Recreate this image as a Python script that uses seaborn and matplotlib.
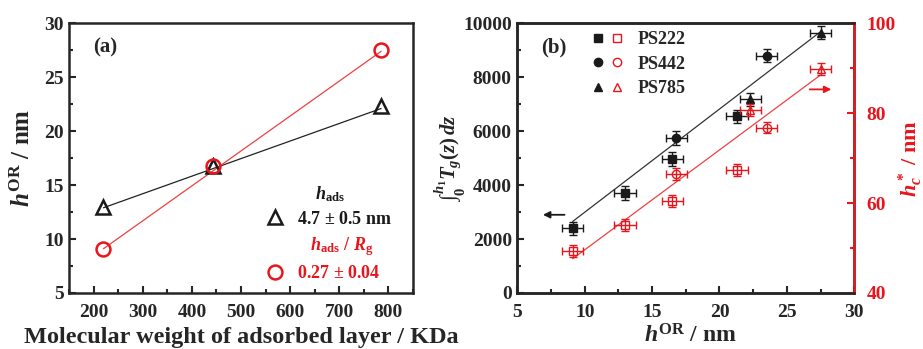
import matplotlib
matplotlib.use("Agg")
import matplotlib.pyplot as plt
from matplotlib.lines import Line2D
from matplotlib.legend_handler import HandlerTuple
from matplotlib.ticker import MultipleLocator
import seaborn as sns

# ---- panel (a) data
mw = [220, 443, 785]
h_or_tri = [13.0, 16.8, 22.3]
h_or_circ = [9.1, 16.8, 27.5]
fit_a_x = [220, 785]
fit_a_black = [12.9, 22.1]
fit_a_red = [9.1, 27.4]

# ---- panel (b) data
ps222_h = [9.1, 13.0, 16.5, 21.3]
ps222_int = [2400, 3700, 4970, 6550]
ps222_hc = [49.4, 55.1, 60.4, 67.4]
ps442_h = [16.8, 23.5]
ps442_int = [5750, 8800]
ps442_hc = [66.4, 76.8]
ps785_h = [22.3, 27.5]
ps785_int = [7180, 9650]
ps785_hc = [80.7, 89.8]
h_err = 0.8
int_err = 250
hc_err = 1.3
fit_b_x = [9.1, 27.5]
fit_b_black = [2650, 9690]
fit_b_red = [47.6, 88.5]

sns.set_theme(style="ticks")
plt.rcParams['font.family'] = ['Liberation Serif', 'DejaVu Serif']
plt.rcParams['font.weight'] = 'bold'
plt.rcParams['mathtext.fontset'] = 'custom'
plt.rcParams['mathtext.rm'] = 'Liberation Serif:bold'
plt.rcParams['mathtext.it'] = 'Liberation Serif:italic:bold'
plt.rcParams['mathtext.bf'] = 'Liberation Serif:bold'
plt.rcParams['axes.linewidth'] = 1.8

RED = '#e8161c'
RED_LINE = '#ee4040'
ticksize = 14
labelsize = 17

fig = plt.figure(figsize=(9.23, 3.49), dpi=100)
ax_a = fig.add_axes([0.0748, 0.1605, 0.3727, 0.7727])
ax_b = fig.add_axes([0.5605, 0.1605, 0.3650, 0.7727])
ax_r = ax_b.twinx()


def style_ticks(ax, left=True, right=False, bottom=True):
    ax.tick_params(which='both', direction='in', width=1.5, labelsize=ticksize,
                   top=False, bottom=bottom, left=left, right=right)
    ax.tick_params(axis='x', pad=8)
    ax.tick_params(axis='y', pad=4)
    ax.tick_params(which='major', length=5)
    ax.tick_params(which='minor', length=3)


# ---------------- panel (a)
sns.lineplot(x=fit_a_x, y=fit_a_black, ax=ax_a, color='#222222', lw=0.9)
sns.lineplot(x=fit_a_x, y=fit_a_red, ax=ax_a, color=RED_LINE, lw=0.9)
ax_a.plot(mw, h_or_tri, ls='none', marker='^', ms=10, mfc='none', mec='k', mew=1.8)
ax_a.plot(mw, h_or_circ, ls='none', marker='o', ms=10, mfc='none', mec=RED, mew=1.8)
ax_a.set_xlim(150, 850)
ax_a.set_ylim(5, 30)
ax_a.xaxis.set_major_locator(MultipleLocator(100))
ax_a.xaxis.set_minor_locator(MultipleLocator(50))
ax_a.yaxis.set_major_locator(MultipleLocator(5))
ax_a.yaxis.set_minor_locator(MultipleLocator(2.5))
style_ticks(ax_a)
ax_a.set_xlabel('Molecular weight of adsorbed layer / KDa', fontsize=17.5, fontweight='bold')
ax_a.xaxis.set_label_coords(0.5, -0.125)
ax_a.set_ylabel(r'$h^{\mathrm{OR}}$ / nm', fontsize=18, fontweight='bold')
ax_a.yaxis.set_label_coords(-0.098, 0.5)
ax_a.text(0.105, 0.91, '(a)', transform=ax_a.transAxes, ha='center', va='center',
          fontsize=15, fontweight='bold')

blank = Line2D([], [], ls='none')
tri = Line2D([], [], ls='none', marker='^', ms=10, mfc='none', mec='k', mew=1.8)
circ = Line2D([], [], ls='none', marker='o', ms=10, mfc='none', mec=RED, mew=1.8)
leg = ax_a.legend([blank, tri, blank, circ],
                  [r'    $h_{\mathrm{ads}}$', '4.7 $\\pm$ 0.5 nm',
                   r'   $h_{\mathrm{ads}}$ / $R_{\mathrm{g}}$', '0.27 $\\pm$ 0.04'],
                  loc='lower right', bbox_to_anchor=(0.985, -0.02), frameon=False,
                  fontsize=13, handlelength=1.2, handletextpad=0.6, labelspacing=0.4)
for t, c in zip(leg.get_texts(), ['k', 'k', RED, RED]):
    t.set_color(c)
    t.set_fontweight('bold')

# ---------------- panel (b)
sns.lineplot(x=fit_b_x, y=fit_b_black, ax=ax_b, color='#333333', lw=0.9)
sns.lineplot(x=fit_b_x, y=fit_b_red, ax=ax_r, color=RED_LINE, lw=0.9)

series = [(ps222_h, ps222_int, ps222_hc, 's'),
          (ps442_h, ps442_int, ps442_hc, 'o'),
          (ps785_h, ps785_int, ps785_hc, '^')]
handles = []
for hx, yi, yc, m in series:
    ax_b.errorbar(hx, yi, xerr=h_err, yerr=int_err, fmt=m, ms=6, mfc='k', mec='k',
                  ecolor='k', elinewidth=1, capsize=3, capthick=1)
    ax_r.errorbar(hx, yc, xerr=h_err, yerr=hc_err, fmt=m, ms=6, mfc='none', mec=RED,
                  mew=1, ecolor=RED, elinewidth=1, capsize=3, capthick=1)
    handles.append((Line2D([], [], ls='none', marker=m, ms=6, mfc='k', mec='k'),
                    Line2D([], [], ls='none', marker=m, ms=6, mfc='none', mec=RED, mew=1)))

ax_b.set_xlim(5, 30)
ax_b.set_ylim(0, 10000)
ax_r.set_ylim(40, 100)
ax_b.xaxis.set_major_locator(MultipleLocator(5))
ax_b.xaxis.set_minor_locator(MultipleLocator(2.5))
ax_b.yaxis.set_major_locator(MultipleLocator(2000))
ax_b.yaxis.set_minor_locator(MultipleLocator(1000))
ax_r.yaxis.set_major_locator(MultipleLocator(20))
ax_r.yaxis.set_minor_locator(MultipleLocator(10))
style_ticks(ax_b)
style_ticks(ax_r, left=False, right=True, bottom=False)
ax_r.tick_params(axis='y', which='both', colors=RED, labelcolor=RED, pad=9)
ax_r.spines['right'].set_color(RED)
ax_r.spines['right'].set_linewidth(1.8)

ax_b.set_xlabel(r'$h^{\mathrm{OR}}$ / nm', fontsize=labelsize, fontweight='bold')
ax_b.xaxis.set_label_coords(0.513, -0.115)
ax_b.set_ylabel(r'$\int_0^{h_1}T_g(z)\,dz$', fontsize=15)
ax_b.yaxis.set_label_coords(-0.145, 0.5)
ax_r.set_ylabel(r'$h_c^*$ / nm', fontsize=16, color=RED, fontweight='bold')
ax_r.yaxis.set_label_coords(1.125, 0.5)
ax_b.text(0.107, 0.91, '(b)', transform=ax_b.transAxes, ha='center', va='center',
          fontsize=15, fontweight='bold')

leg_b = ax_b.legend(handles, ['PS222', 'PS442', 'PS785'], loc='upper left',
                    bbox_to_anchor=(0.17, 1.03), frameon=False, fontsize=13,
                    handler_map={tuple: HandlerTuple(ndivide=None, pad=0.3)},
                    handlelength=1.8, handletextpad=0.8, labelspacing=0.4)
for t in leg_b.get_texts():
    t.set_fontweight('bold')

ax_b.annotate('', xy=(6.9, 2900), xytext=(8.5, 2900),
              arrowprops=dict(arrowstyle='-|>', color='k', lw=1.3, mutation_scale=10,
                              shrinkA=0, shrinkB=0))
ax_r.annotate('', xy=(28.3, 85.3), xytext=(26.7, 85.3),
              arrowprops=dict(arrowstyle='-|>', color=RED, lw=1.3, mutation_scale=10,
                              shrinkA=0, shrinkB=0))

fig.canvas.draw()
for ax in (ax_a, ax_b, ax_r):
    for lab in ax.get_xticklabels() + ax.get_yticklabels():
        lab.set_fontweight('bold')

fig.savefig('out.png', dpi=100, facecolor='#FFFFFF')
